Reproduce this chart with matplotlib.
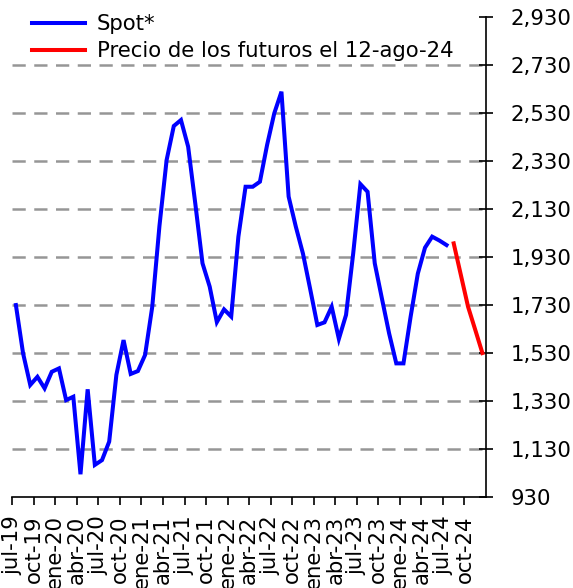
import matplotlib
matplotlib.use("Agg")
import matplotlib.pyplot as plt
import numpy as np

# ---- data ----
spot = [1731, 1530, 1398, 1432, 1384, 1453, 1467, 1335, 1349, 1026,
        1380, 1065, 1085, 1162, 1440, 1585, 1444, 1456, 1523, 1724,
        2060, 2335, 2477, 2502, 2391, 2153, 1905, 1808, 1660, 1713,
        1683, 2016, 2224, 2224, 2245, 2398, 2530, 2620, 2183, 2058,
        1945, 1798, 1648, 1659, 1724, 1590, 1690, 1947, 2235, 2203,
        1905, 1758, 1613, 1488, 1488, 1683, 1862, 1970, 2016, 2000,
        1981]
futures = [1988, 1856, 1724, 1628, 1531]
futures_start = 61  # aug-24 (months from jul-19)
tick_labels = ["jul-19", "oct-19", "ene-20", "abr-20", "jul-20", "oct-20",
               "ene-21", "abr-21", "jul-21", "oct-21", "ene-22", "abr-22",
               "jul-22", "oct-22", "ene-23", "abr-23", "jul-23", "oct-23",
               "ene-24", "abr-24", "jul-24", "oct-24"]
yticks = [930, 1130, 1330, 1530, 1730, 1930, 2130, 2330, 2530, 2730, 2930]
label_spot = "Spot*"
label_fut = "Precio de los futuros el 12-ago-24"

FS = 15.3
plt.rcParams['font.family'] = ['DejaVu Sans']

fig = plt.figure(figsize=(5.73, 5.88), dpi=100)
ax = fig.add_axes([12.3/573, 1-497.3/588, (486-12.3)/573, (497.3-17.3)/588])

x_spot = np.arange(len(spot)) + 0.5
x_fut = np.arange(futures_start, futures_start + len(futures)) + 0.5
ax.plot(x_spot, spot, color="#0000FF", lw=2.9, solid_joinstyle="miter", label=label_spot, zorder=3)
ax.plot(x_fut, futures, color="#FF0000", lw=2.9, label=label_fut, zorder=3)

ax.set_xlim(0, 66)
ax.set_ylim(930, 2930)

ax.set_xticks(np.arange(0, 3*len(tick_labels), 3))
ax.set_xticklabels(tick_labels, rotation=90, fontsize=FS)
ax.tick_params(axis="x", direction="out", length=6, width=1.2, pad=7, color="black")

ax.yaxis.tick_right()
ax.set_yticks(yticks)
ax.set_yticklabels([f"{v:,}" for v in yticks], fontsize=FS)
ax.tick_params(axis="y", direction="inout", length=10, width=1.2, pad=13)

for s in ["top", "left"]:
    ax.spines[s].set_visible(False)
for s in ["bottom", "right"]:
    ax.spines[s].set_linewidth(1.2)

ax.grid(axis="y", color="#969696", lw=1.8, linestyle=(0, (5.3, 3.4)))
gl = ax.get_ygridlines()
gl[0].set_visible(False)
gl[-1].set_visible(False)
ax.set_axisbelow(True)

leg = fig.legend(loc="upper left", bbox_to_anchor=(31.7/573, 1-14.5/588), frameon=False,
                 fontsize=FS, handlelength=2.5, handletextpad=0.55, borderpad=0,
                 borderaxespad=0, labelspacing=0.32)

fig.savefig("out.png", dpi=100)
